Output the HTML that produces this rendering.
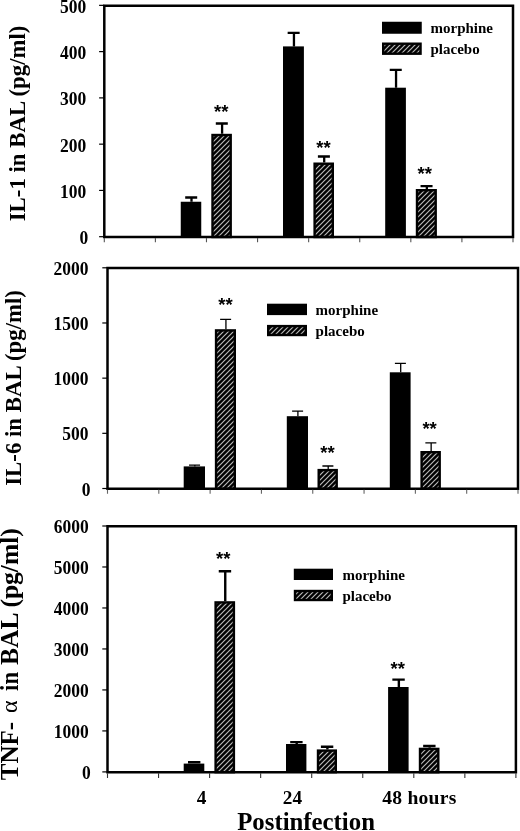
<!DOCTYPE html>
<html lang="en"><head><meta charset="utf-8"><title>Cytokines in BAL</title>
<style>html,body{margin:0;padding:0;background:#fff}svg{display:block}text{font-family:"Liberation Serif",serif;font-weight:bold;fill:#000}.st{font-family:"Liberation Sans",sans-serif;font-weight:bold;font-size:18.5px}</style></head><body>
<svg width="520" height="831" viewBox="0 0 520 831">
<defs><pattern id="h" width="5" height="5" patternUnits="userSpaceOnUse"><rect width="5" height="5" fill="#000"/><path d="M-1 6L6 -1M-1 1L1 -1M4 6L6 4" stroke="#b8b8b8" stroke-width="1.2"/></pattern></defs>
<rect width="520" height="831" fill="#fff"/>
<rect x="180.75" y="201.75" width="20.50" height="35.25" fill="#000"/>
<path d="M191.5 201.75V197.5M185.2 197.5H197.2" stroke="#000" stroke-width="2.3" fill="none"/>
<rect x="283.0" y="46.4" width="20.90" height="190.60" fill="#000"/>
<path d="M293.95 46.4V32.8M287.65 32.8H299.65" stroke="#000" stroke-width="2.3" fill="none"/>
<rect x="385.2" y="87.7" width="20.70" height="149.30" fill="#000"/>
<path d="M396.05 87.7V69.8M389.75 69.8H401.75" stroke="#000" stroke-width="2.3" fill="none"/>
<rect x="212.5" y="135.0" width="18.20" height="102.00" fill="url(#h)" stroke="#000" stroke-width="2.4"/>
<path d="M222.10 133.8V123.5M215.8 123.5H227.8" stroke="#000" stroke-width="2.3" fill="none"/>
<rect x="314.60" y="163.7" width="18.20" height="73.30" fill="url(#h)" stroke="#000" stroke-width="2.4"/>
<path d="M324.2 162.5V156.5M317.9 156.5H329.9" stroke="#000" stroke-width="2.3" fill="none"/>
<rect x="417.0" y="190.2" width="18.70" height="46.80" fill="url(#h)" stroke="#000" stroke-width="2.4"/>
<path d="M426.85 189.0V186.2M420.55 186.2H432.55" stroke="#000" stroke-width="2.3" fill="none"/>
<path d="M104.3 237.0V5.65H513.0V237.0Z" stroke="#000" stroke-width="2.5" fill="none"/>
<path d="M99.1 5.35H104.3" stroke="#000" stroke-width="1.2"/>
<text transform="translate(86.30 12.85) scale(1 1.08)" font-size="17.5" text-anchor="end">500</text>
<path d="M99.1 51.62H104.3" stroke="#000" stroke-width="1.2"/>
<text transform="translate(86.30 59.12) scale(1 1.08)" font-size="17.5" text-anchor="end">400</text>
<path d="M99.1 97.89H104.3" stroke="#000" stroke-width="1.2"/>
<text transform="translate(86.30 105.39) scale(1 1.08)" font-size="17.5" text-anchor="end">300</text>
<path d="M99.1 144.16H104.3" stroke="#000" stroke-width="1.2"/>
<text transform="translate(86.30 151.66) scale(1 1.08)" font-size="17.5" text-anchor="end">200</text>
<path d="M99.1 190.43H104.3" stroke="#000" stroke-width="1.2"/>
<text transform="translate(86.30 197.93) scale(1 1.08)" font-size="17.5" text-anchor="end">100</text>
<path d="M99.1 236.7H104.3" stroke="#000" stroke-width="1.2"/>
<text transform="translate(88.20 244.20) scale(1 1.08)" font-size="17.5" text-anchor="end">0</text>
<path d="M104.30 238.00V242.20M155.39 238.00V242.20M206.47 238.00V242.20M257.56 238.00V242.20M308.65 238.00V242.20M359.74 238.00V242.20M410.82 238.00V242.20M461.91 238.00V242.20M513.00 238.00V242.20" stroke="#555" stroke-width="1.1"/>
<text class="st" x="221.3" y="118.30" text-anchor="middle">**</text>
<text class="st" x="323.4" y="153.80" text-anchor="middle">**</text>
<text class="st" x="424.7" y="179.80" text-anchor="middle">**</text>
<rect x="382.0" y="21.75" width="39.75" height="12.00" fill="#000"/>
<rect x="383.2" y="43.7" width="37.35" height="10.00" fill="url(#h)" stroke="#000" stroke-width="2.4"/>
<text x="430.5" y="33.3" font-size="15">morphine</text>
<text x="430.5" y="54.1" font-size="15">placebo</text>
<text transform="translate(25.0 123.4) rotate(-90)" font-size="22.8" text-anchor="middle">IL-1 in BAL (pg/ml)</text>
<rect x="183.7" y="466.4" width="21.30" height="22.40" fill="#000"/>
<path d="M194.85 466.4V465.2M189.05 465.2H200.05" stroke="#000" stroke-width="1.3" fill="none"/>
<rect x="286.8" y="416.2" width="21.20" height="72.60" fill="#000"/>
<path d="M297.9 416.2V411.2M292.10 411.2H303.10" stroke="#000" stroke-width="1.3" fill="none"/>
<rect x="389.8" y="372.3" width="20.80" height="116.50" fill="#000"/>
<path d="M400.70 372.3V363.4M394.90 363.4H405.90" stroke="#000" stroke-width="1.3" fill="none"/>
<rect x="216.05" y="330.4" width="18.75" height="158.40" fill="url(#h)" stroke="#000" stroke-width="2.4"/>
<path d="M225.93 329.2V319.4M220.12 319.4H231.12" stroke="#000" stroke-width="1.3" fill="none"/>
<rect x="318.7" y="470.10" width="18.00" height="18.70" fill="url(#h)" stroke="#000" stroke-width="2.4"/>
<path d="M328.2 468.9V466.0M322.4 466.0H333.4" stroke="#000" stroke-width="1.3" fill="none"/>
<rect x="421.60" y="452.2" width="18.10" height="36.60" fill="url(#h)" stroke="#000" stroke-width="2.4"/>
<path d="M431.15 451.0V442.9M425.35 442.9H436.35" stroke="#000" stroke-width="1.3" fill="none"/>
<path d="M107.5 488.8V268.1H518.0V488.8Z" stroke="#000" stroke-width="2.5" fill="none"/>
<path d="M102.3 267.8H107.5" stroke="#000" stroke-width="1.2"/>
<text transform="translate(88.50 274.90) scale(1 1.08)" font-size="17.5" text-anchor="end">2000</text>
<path d="M102.3 322.98H107.5" stroke="#000" stroke-width="1.2"/>
<text transform="translate(88.50 330.08) scale(1 1.08)" font-size="17.5" text-anchor="end">1500</text>
<path d="M102.3 378.15H107.5" stroke="#000" stroke-width="1.2"/>
<text transform="translate(88.50 385.25) scale(1 1.08)" font-size="17.5" text-anchor="end">1000</text>
<path d="M102.3 433.32H107.5" stroke="#000" stroke-width="1.2"/>
<text transform="translate(88.50 440.42) scale(1 1.08)" font-size="17.5" text-anchor="end">500</text>
<path d="M102.3 488.5H107.5" stroke="#000" stroke-width="1.2"/>
<text transform="translate(90.40 495.60) scale(1 1.08)" font-size="17.5" text-anchor="end">0</text>
<path d="M107.50 489.80V493.80M158.81 489.80V493.80M210.12 489.80V493.80M261.44 489.80V493.80M312.75 489.80V493.80M364.06 489.80V493.80M415.38 489.80V493.80M466.69 489.80V493.80M518.00 489.80V493.80" stroke="#666" stroke-width="1.1"/>
<text class="st" x="225.5" y="311.20" text-anchor="middle">**</text>
<text class="st" x="327.5" y="459.30" text-anchor="middle">**</text>
<text class="st" x="429.6" y="435.20" text-anchor="middle">**</text>
<rect x="267.0" y="303.7" width="40.00" height="11.40" fill="#000"/>
<rect x="268.2" y="326.10" width="37.60" height="8.90" fill="url(#h)" stroke="#000" stroke-width="2.4"/>
<text x="315.6" y="315.0" font-size="15">morphine</text>
<text x="315.6" y="336.0" font-size="15">placebo</text>
<text transform="translate(20.6 387.9) rotate(-90)" font-size="22.8" text-anchor="middle">IL-6 in BAL (pg/ml)</text>
<rect x="183.7" y="763.6" width="20.60" height="8.60" fill="#000"/>
<path d="M194.5 763.6V762.3M188.0 762.3H200.40" stroke="#000" stroke-width="2.4" fill="none"/>
<rect x="286.0" y="744.0" width="20.40" height="28.20" fill="#000"/>
<path d="M296.7 744.0V742.1M290.2 742.1H302.60" stroke="#000" stroke-width="2.4" fill="none"/>
<rect x="388.1" y="687.0" width="20.50" height="85.20" fill="#000"/>
<path d="M398.85 687.0V679.6M392.35 679.6H404.75" stroke="#000" stroke-width="2.4" fill="none"/>
<rect x="215.6" y="602.40" width="18.30" height="169.80" fill="url(#h)" stroke="#000" stroke-width="2.4"/>
<path d="M225.25 601.2V571.3M218.75 571.3H231.15" stroke="#000" stroke-width="2.4" fill="none"/>
<rect x="318.0" y="750.6" width="17.80" height="21.60" fill="url(#h)" stroke="#000" stroke-width="2.4"/>
<path d="M327.4 749.4V746.8M320.9 746.8H333.30" stroke="#000" stroke-width="2.4" fill="none"/>
<rect x="420.0" y="748.90" width="18.30" height="23.30" fill="url(#h)" stroke="#000" stroke-width="2.4"/>
<path d="M429.65 747.7V746.0M423.15 746.0H435.55" stroke="#000" stroke-width="2.4" fill="none"/>
<path d="M107.5 772.2V526.3H515.9V772.2Z" stroke="#000" stroke-width="2.5" fill="none"/>
<path d="M102.3 526.0H107.5" stroke="#000" stroke-width="1.2"/>
<text transform="translate(88.80 532.90) scale(1 1.08)" font-size="17.5" text-anchor="end">6000</text>
<path d="M102.3 566.98H107.5" stroke="#000" stroke-width="1.2"/>
<text transform="translate(88.80 573.88) scale(1 1.08)" font-size="17.5" text-anchor="end">5000</text>
<path d="M102.3 607.97H107.5" stroke="#000" stroke-width="1.2"/>
<text transform="translate(88.80 614.87) scale(1 1.08)" font-size="17.5" text-anchor="end">4000</text>
<path d="M102.3 648.95H107.5" stroke="#000" stroke-width="1.2"/>
<text transform="translate(88.80 655.85) scale(1 1.08)" font-size="17.5" text-anchor="end">3000</text>
<path d="M102.3 689.93H107.5" stroke="#000" stroke-width="1.2"/>
<text transform="translate(88.80 696.83) scale(1 1.08)" font-size="17.5" text-anchor="end">2000</text>
<path d="M102.3 730.92H107.5" stroke="#000" stroke-width="1.2"/>
<text transform="translate(88.80 737.82) scale(1 1.08)" font-size="17.5" text-anchor="end">1000</text>
<path d="M102.3 771.90H107.5" stroke="#000" stroke-width="1.2"/>
<text transform="translate(90.70 778.80) scale(1 1.08)" font-size="17.5" text-anchor="end">0</text>
<path d="M107.50 773.20V778.00M158.55 773.20V778.00M209.60 773.20V778.00M260.65 773.20V778.00M311.70 773.20V778.00M362.75 773.20V778.00M413.80 773.20V778.00M464.85 773.20V778.00M515.90 773.20V778.00" stroke="#333" stroke-width="1.1"/>
<text class="st" x="223.3" y="565.40" text-anchor="middle">**</text>
<text class="st" x="397.7" y="674.60" text-anchor="middle">**</text>
<rect x="293.8" y="568.7" width="39.20" height="11.30" fill="#000"/>
<rect x="295.0" y="591.0" width="36.80" height="9.00" fill="url(#h)" stroke="#000" stroke-width="2.4"/>
<text x="342.4" y="580.0" font-size="15">morphine</text>
<text x="342.4" y="601.0" font-size="15">placebo</text>
<text transform="translate(18 780.3) rotate(-90) scale(1.01 1)" font-size="24.8">TNF-</text>
<text transform="translate(16.8 706.8) rotate(-90)" font-size="24" text-anchor="middle" style="font-weight:normal">α</text>
<text transform="translate(18 690.9) rotate(-90) scale(0.92 1)" font-size="24.8">in</text>
<text transform="translate(18 528.2) rotate(-90) scale(1.03 1)" font-size="24.8" text-anchor="end">BAL (pg/ml)</text>
<text x="206.4" y="804.1" font-size="19.3" text-anchor="end">4</text>
<text x="302.1" y="804.1" font-size="19.3" text-anchor="end">24</text>
<text x="382.3" y="804.1" font-size="19.6" textLength="74" lengthAdjust="spacing">48 hours</text>
<text x="237.2" y="829.6" font-size="24.8">Postinfection</text>
</svg></body></html>
